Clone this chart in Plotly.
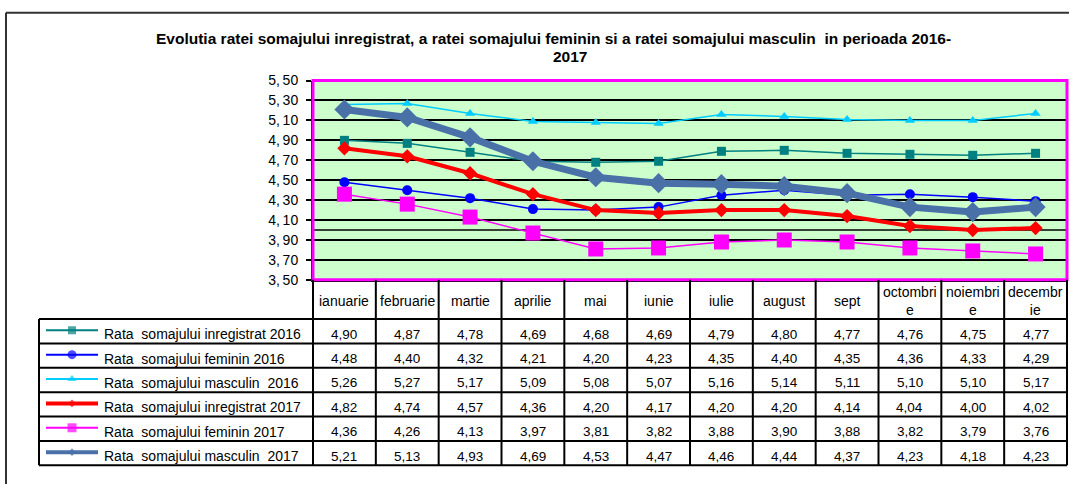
import plotly.graph_objects as go

W, H = 1069, 492

months = ["ianuarie", "februarie", "martie", "aprilie", "mai", "iunie", "iulie",
          "august", "sept", "octombrie", "noiembrie", "decembrie"]
month_labels = ["ianuarie", "februarie", "martie", "aprilie", "mai", "iunie", "iulie",
                "august", "sept", "octombri<br>e", "noiembri<br>e", "decembr<br>ie"]

series_names = [
    "Rata  somajului inregistrat 2016",
    "Rata  somajului feminin 2016",
    "Rata  somajului masculin  2016",
    "Rata  somajului inregistrat 2017",
    "Rata  somajului feminin 2017",
    "Rata  somajului masculin  2017",
]
inreg_2016 = [4.90, 4.87, 4.78, 4.69, 4.68, 4.69, 4.79, 4.80, 4.77, 4.76, 4.75, 4.77]
fem_2016 = [4.48, 4.40, 4.32, 4.21, 4.20, 4.23, 4.35, 4.40, 4.35, 4.36, 4.33, 4.29]
masc_2016 = [5.26, 5.27, 5.17, 5.09, 5.08, 5.07, 5.16, 5.14, 5.11, 5.10, 5.10, 5.17]
inreg_2017 = [4.82, 4.74, 4.57, 4.36, 4.20, 4.17, 4.20, 4.20, 4.14, 4.04, 4.00, 4.02]
fem_2017 = [4.36, 4.26, 4.13, 3.97, 3.81, 3.82, 3.88, 3.90, 3.88, 3.82, 3.79, 3.76]
masc_2017 = [5.21, 5.13, 4.93, 4.69, 4.53, 4.47, 4.46, 4.44, 4.37, 4.23, 4.18, 4.23]

y_ticks = [3.50, 3.70, 3.90, 4.10, 4.30, 4.50, 4.70, 4.90, 5.10, 5.30, 5.50]

title_line1 = "Evolutia ratei somajului inregistrat, a ratei somajului feminin si a ratei somajului masculin  in perioada 2016-"
title_line2 = "2017"

all_series = [inreg_2016, fem_2016, masc_2016, inreg_2017, fem_2017, masc_2017]

styles = [
    dict(color="#008080", lw=1.5, sym="square", ms=9, klw=2, kms=8),
    dict(color="#0000FF", lw=1.5, sym="circle", ms=10, klw=2, kms=9),
    dict(color="#00CCFF", lw=1.5, sym="triangle-up", ms=9, klw=2, kms=8),
    dict(color="#FF0000", lw=4, sym="diamond", ms=11, klw=4, kms=6),
    dict(color="#FF00FF", lw=1.5, sym="square", ms=15, klw=2, kms=9),
    dict(color="#4A70A8", lw=7, sym="diamond", ms=15.5, klw=4, kms=6),
]

FONT = "Liberation Sans, Arial, sans-serif"

# layout geometry (pixels)
PX0, PX1 = 313, 1067
PY0, PY1 = 75, 281
TBL_L = 39
HDR_B = 321.5
ROW_H = 25.2
COL_W = (PX1 - PX0) / 12

fig = go.Figure()

for name, vals, st in zip(series_names, all_series, styles):
    fig.add_trace(go.Scatter(
        x=months, y=vals, name=name, mode="lines+markers",
        line=dict(color=st["color"], width=st["lw"]),
        marker=dict(symbol=st["sym"], size=st["ms"], color=st["color"], line=dict(width=0)),
        xaxis="x", yaxis="y", showlegend=False, cliponaxis=False,
    ))

shapes = []
annotations = []

# plot background and border
shapes.append(dict(type="rect", xref="x domain", yref="y domain", x0=0, x1=1, y0=0, y1=1,
                   fillcolor="#CCFFCC", line=dict(width=0), layer="below"))
shapes.append(dict(type="line", xref="x domain", yref="y", x0=0, x1=1, y0=4.0, y1=4.0,
                   line=dict(color="black", width=1.5), layer="below"))
shapes.append(dict(type="rect", xref="x domain", yref="y domain", x0=0, x1=1, y0=0, y1=1,
                   line=dict(color="#FF00FF", width=3), fillcolor="rgba(0,0,0,0)", layer="above"))

# outer frame (top and left edges visible)
shapes.append(dict(type="line", xref="x2", yref="y2", x0=6, x1=W + 5, y0=5, y1=5,
                   line=dict(color="#333333", width=2)))
shapes.append(dict(type="line", xref="x2", yref="y2", x0=6, x1=6, y0=5, y1=H + 5,
                   line=dict(color="#333333", width=2)))

# table lines
n_rows = len(series_names)
tbl_bottom = HDR_B + ROW_H * n_rows
for k in range(13):
    x = PX0 + COL_W * k
    shapes.append(dict(type="line", xref="x2", yref="y2", x0=x, x1=x, y0=PY1, y1=tbl_bottom,
                       line=dict(color="black", width=2)))
shapes.append(dict(type="line", xref="x2", yref="y2", x0=TBL_L, x1=TBL_L, y0=HDR_B, y1=tbl_bottom,
                   line=dict(color="black", width=2)))
for r in range(n_rows + 1):
    y = HDR_B + ROW_H * r
    shapes.append(dict(type="line", xref="x2", yref="y2", x0=TBL_L, x1=PX1, y0=y, y1=y,
                       line=dict(color="black", width=2)))

# header labels
for k, lab in enumerate(month_labels):
    annotations.append(dict(xref="x2", yref="y2", x=PX0 + COL_W * (k + 0.5), y=(PY1 + HDR_B) / 2 + 2,
                            text=lab, showarrow=False, xanchor="center", yanchor="middle",
                            font=dict(family=FONT, size=14, color="black")))

# values and legend column
for r, (name, vals, st) in enumerate(zip(series_names, all_series, styles)):
    yc = HDR_B + ROW_H * (r + 0.5)
    for k, v in enumerate(vals):
        annotations.append(dict(xref="x2", yref="y2", x=PX0 + COL_W * (k + 0.5), y=yc + 3,
                                text=f"{v:.2f}".replace(".", ","), showarrow=False,
                                xanchor="center", yanchor="middle",
                                font=dict(family=FONT, size=13.5, color="black")))
    annotations.append(dict(xref="x2", yref="y2", x=102, y=yc + 3, text=name.replace("  ", "\u00a0 "),
                            showarrow=False, xanchor="left", yanchor="middle",
                            font=dict(family=FONT, size=14, color="black")))
    fig.add_trace(go.Scatter(
        x=[46, 72, 98], y=[yc - 1] * 3, mode="lines+markers", xaxis="x2", yaxis="y2",
        line=dict(color=st["color"], width=st["klw"]),
        marker=dict(symbol=st["sym"], size=[0, st["kms"], 0], color=st["color"], line=dict(width=0)),
        showlegend=False, hoverinfo="skip",
    ))

# title
annotations.append(dict(xref="x2", yref="y2", x=553, y=32, text="<b>" + title_line1 + "</b>",
                        showarrow=False, xanchor="center", yanchor="middle",
                        font=dict(family=FONT, size=15.5, color="black")))
annotations.append(dict(xref="x2", yref="y2", x=570, y=50, text="<b>" + title_line2 + "</b>",
                        showarrow=False, xanchor="center", yanchor="middle",
                        font=dict(family=FONT, size=15.5, color="black")))

fig.update_layout(
    width=W, height=H, autosize=False,
    margin=dict(l=0, r=0, t=0, b=0, pad=0),
    paper_bgcolor="white", plot_bgcolor="rgba(0,0,0,0)",
    showlegend=False,
    xaxis=dict(domain=[PX0 / W, PX1 / W], range=[-0.5, 11.5], type="category",
               showticklabels=False, ticks="", showgrid=False, zeroline=False,
               showline=True, linecolor="black", linewidth=2, anchor="y", fixedrange=True),
    yaxis=dict(domain=[1 - PY1 / H, 1 - PY0 / H], range=[3.5, 5.5], tickmode="array",
               tickvals=y_ticks, ticktext=[f"{t:.2f}".replace(".", ",\u2009") for t in y_ticks],
               ticks="outside", ticklen=5, tickwidth=2, tickcolor="black",
               ticklabelstandoff=5,
               showgrid=True, gridcolor="black", gridwidth=1.5, zeroline=False,
               showline=True, linecolor="black", linewidth=2, anchor="x",
               tickfont=dict(family=FONT, size=14, color="black"), fixedrange=True),
    xaxis2=dict(domain=[0, 1], range=[0, W], visible=False, anchor="y2", fixedrange=True),
    yaxis2=dict(domain=[0, 1], range=[H, 0], visible=False, anchor="x2", fixedrange=True),
    shapes=shapes,
    annotations=annotations,
)

fig.write_html("out.html", config={"displayModeBar": False},
               post_script="document.body.style.margin='0';")
